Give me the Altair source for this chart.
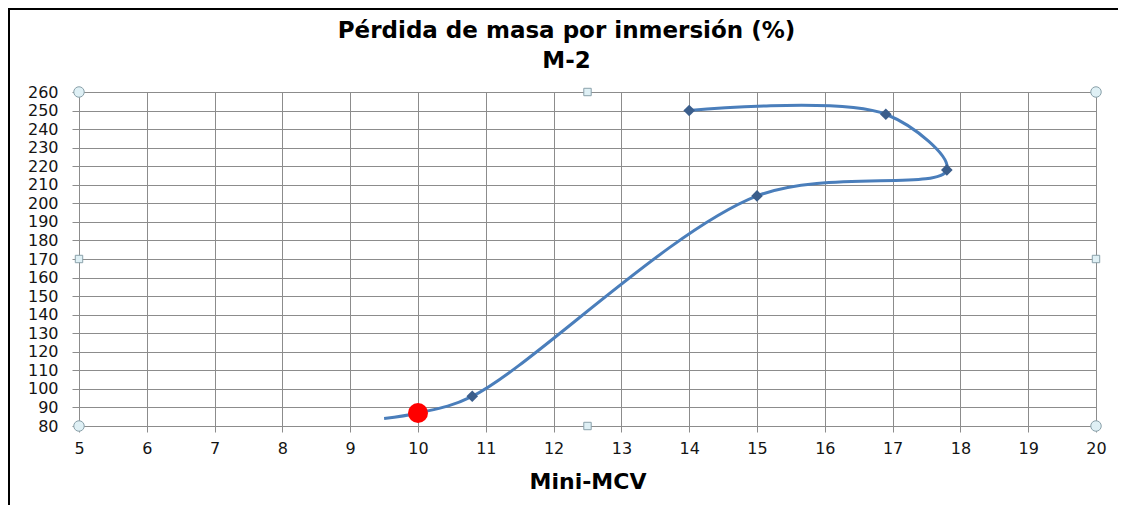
import altair as alt
import pandas as pd

# Curve (Excel smoothed line) points, in order
curve_x = [9.5, 10.0, 10.8, 15.0, 17.8, 16.9, 14.0]
curve_y = [84, 87, 96, 204, 218, 248, 250]

# Diamond markers
marker_x = [10.8, 15.0, 17.8, 16.9, 14.0]
marker_y = [96, 204, 218, 248, 250]

# Highlighted red point
red_x = [10.0]
red_y = [87]

# Excel selection handles
handle_round_x = [5, 20, 5, 20]
handle_round_y = [260, 260, 80, 80]
handle_square_x = [12.5, 12.5, 5, 20]
handle_square_y = [260, 80, 170, 170]

x_ticks = list(range(5, 21))
y_ticks = list(range(80, 261, 10))

title_lines = ["Pérdida de masa por inmersión (%)", "M-2"]
x_title = "Mini-MCV"

curve = pd.DataFrame({"x": curve_x, "y": curve_y, "i": list(range(len(curve_x)))})
markers = pd.DataFrame({"x": marker_x, "y": marker_y})
red = pd.DataFrame({"x": red_x, "y": red_y})
hround = pd.DataFrame({"x": handle_round_x, "y": handle_round_y})
hsq = pd.DataFrame({"x": handle_square_x, "y": handle_square_y})

xs = alt.Scale(domain=[5, 20], nice=False, zero=False)
ys = alt.Scale(domain=[80, 260], nice=False, zero=False)

xaxis = alt.Axis(values=x_ticks, format="d", title=x_title, grid=True,
                 gridColor="#8c8c8c", gridWidth=1, domainColor="#8c8c8c",
                 tickColor="#8c8c8c", tickSize=6,
                 labelFont="DejaVu Sans", labelFontSize=16, labelColor="#141414",
                 labelPadding=8, titleFont="DejaVu Sans", titleFontSize=22,
                 titleFontWeight="bold", titleColor="#000000", titlePadding=15,
                 labelFlush=False)
yaxis = alt.Axis(values=y_ticks, format="d", title=None, grid=True,
                 gridColor="#8c8c8c", gridWidth=1, domainColor="#8c8c8c",
                 tickColor="#8c8c8c", tickSize=7,
                 labelFont="DejaVu Sans", labelFontSize=16, labelColor="#141414",
                 labelPadding=14, labelFlush=False)


def X():
    return alt.X("x:Q", scale=xs, axis=xaxis)


def Y():
    return alt.Y("y:Q", scale=ys, axis=yaxis)


line = alt.Chart(curve).mark_line(color="#4a7ebb", strokeWidth=3,
                                   interpolate="catmull-rom").encode(
    x=X(), y=Y(), order="i:Q")

pts = alt.Chart(markers).mark_point(shape="diamond", filled=True, color="#3b5e8c",
                                    size=135, opacity=1).encode(x=X(), y=Y())

redpt = alt.Chart(red).mark_circle(color="#ff0000", size=400, opacity=1).encode(
    x=X(), y=Y())

hr = alt.Chart(hround).mark_point(shape="circle", filled=True, fill="#dff0f5",
                                   stroke="#8aa1aa", strokeWidth=1, size=110,
                                   opacity=1).encode(x=X(), y=Y())

hs = alt.Chart(hsq).mark_point(shape="square", filled=True, fill="#dff0f5",
                                stroke="#8aa1aa", strokeWidth=1, size=55,
                                opacity=1).encode(x=X(), y=Y())

frame_top = alt.Chart(pd.DataFrame({"k": [0]})).mark_rule(
    color="#000000", strokeWidth=2).encode(
    x=alt.value(-71), x2=alt.value(1040), y=alt.value(-83))
frame_left = alt.Chart(pd.DataFrame({"k": [0]})).mark_rule(
    color="#000000", strokeWidth=2).encode(
    x=alt.value(-70), y=alt.value(-83), y2=alt.value(420))

chart = alt.layer(line, pts, redpt, hr, hs, frame_top, frame_left).properties(
    width=1017, height=334,
    padding={"left": 71, "top": 84, "right": 22, "bottom": 82},
    autosize=alt.AutoSizeParams(type="none"),
    title=alt.TitleParams(text=title_lines, font="DejaVu Sans", fontSize=23,
                          fontWeight="bold", color="#000000", anchor="middle",
                          frame="group", dx=-21, dy=87, offset=22, lineHeight=30),
).configure_view(stroke=None)

chart.save("out.html", embed_options={"renderer": "svg", "actions": False})
